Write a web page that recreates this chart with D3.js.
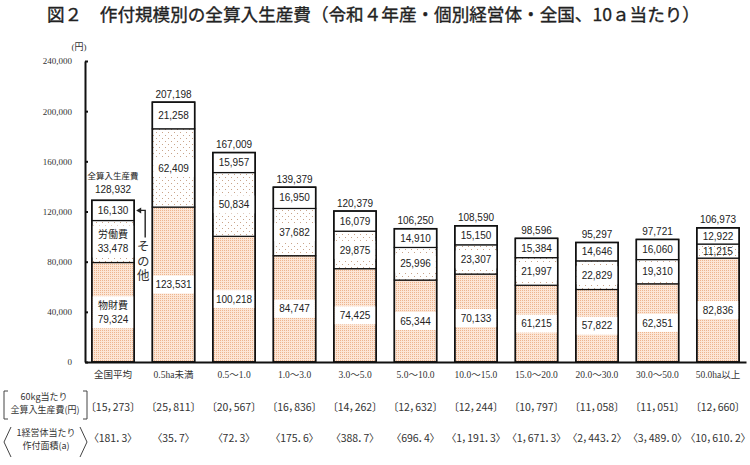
<!DOCTYPE html>
<html>
<head>
<meta charset="utf-8">
<script src="https://cdn.jsdelivr.net/npm/d3@7"></script>
<style>
  body { margin: 0; background: #fff; }
  svg { display: block; }
  .jp { font-family: "Noto Sans CJK JP", sans-serif; }
  .num { font-family: "Liberation Sans", "Noto Sans CJK JP", sans-serif; }
  .row { font-family: "Noto Sans CJK JP", sans-serif; font-feature-settings: "palt"; }
</style>
</head>
<body>
<div id="container"></div>
<script>
/* CONSTANTS AND GLOBALS */
const width = 750,
  height = 465,
  margin = { top: 61, bottom: 103, left: 85, right: 4 }

/* DATA */
const categories = ["全国平均", "0.5ha未満", "0.5～1.0", "1.0～3.0", "3.0～5.0", "5.0～10.0",
  "10.0～15.0", "15.0～20.0", "20.0～30.0", "30.0～50.0", "50.0ha以上"]
const materialCost = [79324, 123531, 100218, 84747, 74425, 65344, 70133, 61215, 57822, 62351, 82836]
const laborCost = [33478, 62409, 50834, 37682, 29875, 25996, 23307, 21997, 22829, 19310, 11215]
const otherCost = [16130, 21258, 15957, 16950, 16079, 14910, 15150, 15384, 14646, 16060, 12922]
const totalCost = [128932, 207198, 167009, 139379, 120379, 106250, 108590, 98596, 95297, 97721, 106973]
const costPer60kg = [15273, 25811, 20567, 16836, 14262, 12632, 12244, 10797, 11058, 11051, 12660]
const areaPerFarm = [181.3, 35.7, 72.3, 175.6, 388.7, 696.4, 1191.3, 1671.3, 2443.2, 3489.0, 10610.2]
const yTicks = [0, 40000, 80000, 120000, 160000, 200000, 240000]

const data = categories.map((c, i) => ({
  cat: c, mat: materialCost[i], lab: laborCost[i], oth: otherCost[i], total: totalCost[i]
}))

// CREATE SVG ELEMENT
const svg = d3.select("#container")
  .append("svg")
  .attr("width", width)
  .attr("height", height)

// patterns
const defs = svg.append("defs")
const pMat = defs.append("pattern").attr("id", "pMat")
  .attr("width", 2).attr("height", 2).attr("patternUnits", "userSpaceOnUse")
pMat.append("rect").attr("width", 2).attr("height", 2).attr("fill", "#fce6d6")
pMat.append("rect").attr("width", 1).attr("height", 1).attr("fill", "#edb48e")

const pLab = defs.append("pattern").attr("id", "pLab")
  .attr("width", 6).attr("height", 6).attr("patternUnits", "userSpaceOnUse")
pLab.append("rect").attr("width", 6).attr("height", 6).attr("fill", "#fff")
pLab.append("rect").attr("width", 1).attr("height", 1).attr("fill", "#c9a48a")
pLab.append("rect").attr("x", 3).attr("y", 3).attr("width", 1).attr("height", 1).attr("fill", "#c9a48a")

// title
svg.append("text")
  .attr("class", "jp")
  .attr("x", 47).attr("y", 21)
  .attr("font-size", 17.6)
  .attr("font-weight", 400)
  .attr("fill", "#222")
  .attr("stroke", "#222")
  .attr("stroke-width", 0.35)
  .text("図２　作付規模別の全算入生産費（令和４年産・個別経営体・全国、10ａ当たり）")

// + SCALES
const xScale = d3.scaleBand()
  .domain(categories)
  .range([margin.left, width - margin.right])
  .paddingInner(0.3)
  .paddingOuter(0.113)

const yScale = d3.scaleLinear()
  .domain([0, 240000])
  .range([height - margin.bottom, margin.top])

const bw = xScale.bandwidth()
const fmt = d3.format(",")

// BARS
const stack = d3.stack().keys(["mat", "lab", "oth"])(data)
const fills = { mat: "url(#pMat)", lab: "url(#pLab)", oth: "#fff" }

svg.append("g")
  .selectAll("g")
  .data(stack)
  .join("g")
  .attr("fill", d => fills[d.key])
  .selectAll("rect")
  .data(d => d)
  .join("rect")
  .attr("x", d => xScale(d.data.cat))
  .attr("y", d => yScale(d[1]))
  .attr("width", bw)
  .attr("height", d => yScale(d[0]) - yScale(d[1]))
  .attr("stroke", "#111")
  .attr("stroke-width", 1.2)

// outer frame of each bar
svg.append("g")
  .selectAll("rect")
  .data(data)
  .join("rect")
  .attr("x", d => xScale(d.cat))
  .attr("y", d => yScale(d.total))
  .attr("width", bw)
  .attr("height", d => yScale(0) - yScale(d.total))
  .attr("fill", "none")
  .attr("stroke", "#111")
  .attr("stroke-width", 1.6)

// labels inside segments
const labelG = svg.append("g").attr("class", "num").attr("font-size", 10).attr("fill", "#222")

function segLabel(d, lo, hi, lines, boxed) {
  const cx = xScale(d.cat) + bw / 2
  const cy = (yScale(lo) + yScale(hi)) / 2
  const lh = 14
  const h = lines.length * lh + 4
  if (boxed) {
    labelG.append("rect")
      .attr("x", xScale(d.cat) + 1)
      .attr("y", cy - h / 2)
      .attr("width", bw - 2)
      .attr("height", h)
      .attr("fill", "#fff")
  }
  lines.forEach((t, k) => {
    labelG.append("text")
      .attr("x", cx)
      .attr("y", cy + (k - (lines.length - 1) / 2) * lh)
      .attr("dy", "0.36em")
      .attr("text-anchor", "middle")
      .text(t)
  })
}

data.forEach((d, i) => {
  const matLines = i === 0 ? ["物財費", fmt(d.mat)] : [fmt(d.mat)]
  const labLines = i === 0 ? ["労働費", fmt(d.lab)] : [fmt(d.lab)]
  segLabel(d, 0, d.mat, matLines, true)
  const labH = yScale(d.mat) - yScale(d.mat + d.lab)
  segLabel(d, d.mat, d.mat + d.lab, labLines, labH > 16)
  segLabel(d, d.mat + d.lab, d.mat + d.lab + d.oth, [fmt(d.oth)], false)

  // total above bar
  const top = yScale(d.total)
  labelG.append("text")
    .attr("x", xScale(d.cat) + bw / 2)
    .attr("y", i === 0 ? top - 7 : top - 4.5)
    .attr("text-anchor", "middle")
    .text(fmt(d.total))
  if (i === 0) {
    labelG.append("text")
      .attr("class", "jp")
      .attr("x", xScale(d.cat) + bw / 2)
      .attr("y", top - 21)
      .attr("font-size", 8.5)
      .attr("text-anchor", "middle")
      .text("全算入生産費")
  }
})

// その他 arrow
const d0 = data[0]
const ax = xScale(d0.cat) + bw + 2
const ay = (yScale(d0.mat + d0.lab) + yScale(d0.total)) / 2
svg.append("path")
  .attr("d", `M${ax + 9},${ay + 27} V${ay} H${ax + 4}`)
  .attr("fill", "none").attr("stroke", "#222").attr("stroke-width", 1.4)
svg.append("path")
  .attr("d", `M${ax},${ay} L${ax + 5},${ay - 3} L${ax + 5},${ay + 3} Z`)
  .attr("fill", "#222")
svg.append("text")
  .attr("class", "jp")
  .attr("font-size", 12.5)
  .attr("fill", "#333")
  .attr("x", ax + 7)
  .attr("y", ay + 30)
  .attr("letter-spacing", 2)
  .style("writing-mode", "vertical-rl")
  .text("その他")

// BUILD AND CALL AXES
const yAxis = d3.axisLeft(yScale)
  .tickValues(yTicks)
  .tickFormat(fmt)
  .tickSizeInner(-3)
  .tickSizeOuter(0)
  .tickPadding(13)

const yG = svg.append("g")
  .attr("class", "yAxis")
  .attr("transform", `translate(${margin.left},0)`)
  .call(yAxis)
yG.select(".domain").attr("stroke", "#111").attr("stroke-width", 2)
yG.selectAll(".tick line").attr("stroke", "#111").attr("stroke-width", 2)
yG.selectAll(".tick text")
  .attr("font-family", "Liberation Serif, serif")
  .attr("font-size", 9)
  .attr("fill", "#333")

svg.append("text")
  .attr("x", 79).attr("y", 50)
  .attr("text-anchor", "middle")
  .attr("font-family", "Liberation Serif, Noto Sans CJK JP, serif")
  .attr("font-size", 9)
  .attr("fill", "#333")
  .text("(円)")

const xAxis = d3.axisBottom(xScale)
  .tickSize(0)
  .tickPadding(9)

const xG = svg.append("g")
  .attr("class", "xAxis")
  .attr("transform", `translate(0,${height - margin.bottom})`)
  .call(xAxis)
xG.select(".domain").attr("stroke", "#111").attr("stroke-width", 2)
xG.selectAll(".tick text")
  .attr("font-family", "Liberation Serif, Noto Sans CJK JP, serif")
  .attr("font-size", 9.5)
  .attr("fill", "#333")

// rows below the chart
const rowG = svg.append("g").attr("class", "row").attr("font-size", 10.5).attr("fill", "#333")
rowG.selectAll(".kg")
  .data(costPer60kg)
  .join("text")
  .attr("x", (v, i) => xScale(categories[i]) + bw / 2)
  .attr("y", 407)
  .attr("dy", "0.36em")
  .attr("text-anchor", "middle")
  .text(v => "〔" + fmt(v).replace(",", "，") + "〕")

rowG.selectAll(".ar")
  .data(areaPerFarm)
  .join("text")
  .attr("x", (v, i) => xScale(categories[i]) + bw / 2)
  .attr("y", 438)
  .attr("dy", "0.36em")
  .attr("text-anchor", "middle")
  .text(v => "〈" + d3.format(",.1f")(v).replace(",", "，").replace(".", "．") + "〉")

// row captions with brackets
const capG = svg.append("g").attr("class", "jp").attr("font-size", 9).attr("fill", "#333")
  .attr("text-anchor", "middle")
capG.append("text").attr("x", 44).attr("y", 400).text("60kg当たり")
capG.append("text").attr("x", 45).attr("y", 413).text("全算入生産費(円)")
capG.append("text").attr("x", 46).attr("y", 436).text("1経営体当たり")
capG.append("text").attr("x", 46).attr("y", 449).text("作付面積(a)")

const brG = svg.append("g").attr("fill", "none").attr("stroke", "#444").attr("stroke-width", 1)
brG.append("path").attr("d", "M8,391 H4 V419 H8")
brG.append("path").attr("d", "M83,391 H87 V419 H83")
brG.append("path").attr("d", "M11,427 L4,442 L11,457")
brG.append("path").attr("d", "M80,427 L87,442 L80,457")
</script>
</body>
</html>
